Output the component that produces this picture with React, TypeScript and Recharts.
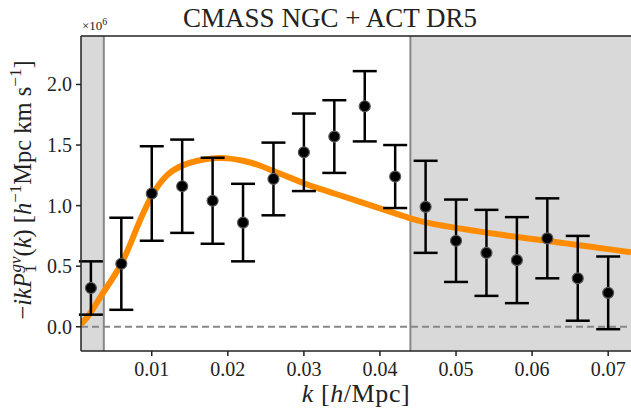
import {
  ComposedChart, Line, Scatter, ErrorBar, XAxis, YAxis, ReferenceArea, ReferenceLine,
} from 'recharts';

// measured k bins [h/Mpc] and -ik P1^gv(k) in units of 1e6
const kBins = [0.002, 0.006, 0.010, 0.014, 0.018, 0.022, 0.026, 0.030, 0.034, 0.038, 0.042, 0.046, 0.050, 0.054, 0.058, 0.062, 0.066, 0.070];
const pMeasured = [0.32, 0.52, 1.10, 1.16, 1.04, 0.86, 1.22, 1.44, 1.57, 1.82, 1.24, 0.99, 0.71, 0.61, 0.55, 0.73, 0.40, 0.28];
const pErrors = [0.22, 0.38, 0.39, 0.385, 0.355, 0.32, 0.30, 0.32, 0.30, 0.29, 0.26, 0.38, 0.34, 0.355, 0.355, 0.33, 0.35, 0.30];

// best-fit model curve
const kModel = [0.0007, 0.002, 0.0036, 0.006, 0.008, 0.010, 0.012, 0.014, 0.016, 0.018, 0.020, 0.022, 0.024, 0.026, 0.028, 0.030, 0.032, 0.034, 0.036, 0.038, 0.040, 0.042, 0.044, 0.046, 0.048, 0.050, 0.052, 0.054, 0.056, 0.058, 0.060, 0.062, 0.064, 0.066, 0.068, 0.070, 0.073];
const pModel = [0.02, 0.12, 0.28, 0.52, 0.81, 1.08, 1.25, 1.33, 1.37, 1.39, 1.39, 1.37, 1.335, 1.285, 1.235, 1.185, 1.14, 1.10, 1.06, 1.018, 0.977, 0.936, 0.895, 0.862, 0.838, 0.816, 0.796, 0.777, 0.759, 0.742, 0.725, 0.709, 0.692, 0.675, 0.658, 0.641, 0.614];

const xTicks = [0.01, 0.02, 0.03, 0.04, 0.05, 0.06, 0.07];
const yTicks = [0, 0.5, 1.0, 1.5, 2.0];

const kMin = 0.0007;
const kMax = 0.073;
const kCutLow = 0.0037;
const kCutHigh = 0.044;

const points = kBins.map((k, i) => ({ k, p: pMeasured[i], err: pErrors[i] }));
const model = kModel.map((k, i) => ({ k, p: pModel[i] }));

const serif = '"Liberation Serif", "Times New Roman", serif';

function Dot(props: any) {
  const { cx, cy } = props;
  if (cx == null || cy == null) return null;
  return <circle cx={cx} cy={cy} r={5.5} fill="#000" stroke="#5a5a5a" strokeWidth={1.2} />;
}

function XTick({ x, y, payload }: any) {
  return (
    <text x={x} y={y + 18} textAnchor="middle" fontSize={20} fontFamily={serif} fill="#222">
      {Number(payload.value).toFixed(2)}
    </text>
  );
}

function YTick({ x, y, payload }: any) {
  return (
    <text x={x - 2} y={y + 7} textAnchor="end" fontSize={20} fontFamily={serif} fill="#222">
      {Number(payload.value).toFixed(1)}
    </text>
  );
}

export default function App() {
  return (
    <div style={{ position: 'absolute', left: 0, top: 0, width: 631, height: 411, overflow: 'hidden', background: '#fff', fontFamily: serif }}>
      <ComposedChart width={640} height={411} margin={{ top: 36, right: 9, bottom: 0, left: 0 }}>
        <XAxis
          dataKey="k"
          type="number"
          domain={[kMin, kMax]}
          ticks={xTicks}
          allowDataOverflow
          height={60}
          tick={<XTick />}
          tickSize={5}
          stroke="#222"
          strokeWidth={1.5}
        />
        <YAxis
          type="number"
          domain={[-0.2, 2.4]}
          ticks={yTicks}
          allowDataOverflow
          width={81}
          tick={<YTick />}
          tickSize={5}
          stroke="#222"
          strokeWidth={1.5}
        />
        {/* scale cuts */}
        <ReferenceArea x1={kMin} x2={kCutLow} y1={-0.2} y2={2.4} fill="#d9d9d9" fillOpacity={1} stroke="none" />
        <ReferenceArea x1={kCutHigh} x2={kMax} y1={-0.2} y2={2.4} fill="#d9d9d9" fillOpacity={1} stroke="none" />
        <ReferenceLine x={kCutLow} stroke="#888" strokeWidth={2} />
        <ReferenceLine x={kCutHigh} stroke="#888" strokeWidth={2} />
        <ReferenceLine y={0} stroke="#888" strokeWidth={2} strokeDasharray="7 4" />
        <ReferenceLine y={2.4} stroke="#222" strokeWidth={1.5} />
        <Line
          data={model}
          dataKey="p"
          type="natural"
          stroke="#ff8c00"
          strokeWidth={6}
          dot={false}
          isAnimationActive={false}
        />
        <Scatter data={points} dataKey="p" shape={<Dot />} isAnimationActive={false}>
          <ErrorBar dataKey="err" direction="y" width={12} stroke="#000" strokeWidth={2.5} isAnimationActive={false} />
        </Scatter>
      </ComposedChart>
      <svg width={631} height={411} style={{ position: 'absolute', left: 0, top: 0, pointerEvents: 'none' }}>
        <text x={330} y={27} textAnchor="middle" fontSize={27} fontFamily={serif} fill="#222">
          CMASS NGC + ACT DR5
        </text>
        <text x={82} y={30} fontSize={13} fontFamily={serif} fill="#222">
          ×10<tspan dy={-5} fontSize={10}>6</tspan>
        </text>
        <text x={356} y={402} textAnchor="middle" fontSize={26} fontFamily={serif} fill="#222" letterSpacing={0.6}>
          <tspan fontStyle="italic">k</tspan> [<tspan fontStyle="italic">h</tspan>/Mpc]
        </text>
        <text transform="translate(31,190) rotate(-90)" textAnchor="middle" fontSize={24.5} fontFamily={serif} fill="#222">
          −<tspan fontStyle="italic">ikP</tspan>
          <tspan dy={5} fontSize={17}>1</tspan>
          <tspan dx={-8} dy={-15} fontSize={17} fontStyle="italic">gv</tspan>
          <tspan dy={10}>(</tspan><tspan fontStyle="italic">k</tspan>) [<tspan fontStyle="italic">h</tspan>
          <tspan dy={-10} fontSize={17}>−1</tspan>
          <tspan dy={10}>Mpc km s</tspan>
          <tspan dy={-10} fontSize={17}>−1</tspan>
          <tspan dy={10}>]</tspan>
        </text>
      </svg>
    </div>
  );
}
